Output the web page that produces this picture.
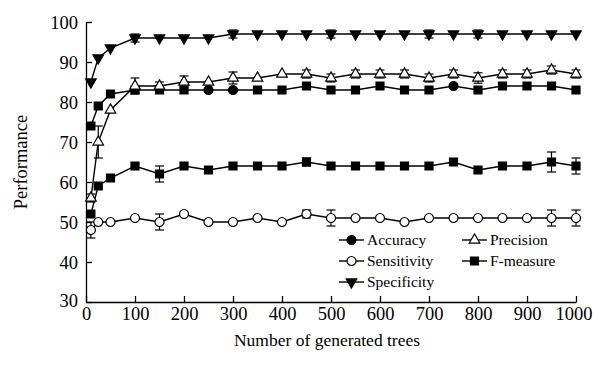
<!DOCTYPE html>
<html>
<head>
<meta charset="utf-8">
<script src="https://cdn.jsdelivr.net/npm/d3@7"></script>
<style>
  body { margin: 0; background: #fff; }
  svg text { font-family: "Liberation Serif", "Times New Roman", serif; fill: #000; }
</style>
</head>
<body>
<svg id="chart" width="593" height="365"></svg>
<script>
const { select, scaleLinear, axisBottom, axisLeft, line, symbol } = d3;

// data
const trees = [10, 25, 50, 100, 150, 200, 250, 300, 350, 400, 450, 500, 550, 600, 650, 700, 750, 800, 850, 900, 950, 1000];

const accuracy    = [74, 79, 82, 83, 83, 83, 83, 83, 83, 83, 84, 83, 83, 84, 83, 83, 84, 83, 84, 84, 84, 83];
const accuracyErr = [0, 0, 0, 0.5, 0, 0, 0, 0, 0, 0, 0, 0, 0, 0, 0, 0, 0, 0, 0, 0, 0, 0];
// the printed figure shows accuracy mostly with square marks, a few circles
const accuracyMark = ['square', 'square', 'square', 'square', 'square', 'square', 'circle', 'circle', 'square', 'square', 'square',
    'square', 'square', 'square', 'square', 'square', 'circle', 'square', 'square', 'square', 'square', 'square'];

const precision    = [56, 70, 78, 84, 84, 85, 85, 86, 86, 87, 87, 86, 87, 87, 87, 86, 87, 86, 87, 87, 88, 87];
const precisionErr = [1, 4, 0, 2, 1, 1.5, 0, 1.5, 0, 0, 1, 1, 1, 1, 1, 1, 1, 1.3, 1, 1, 1, 1];

const sensitivity    = [48, 50, 50, 51, 50, 52, 50, 50, 51, 50, 52, 51, 51, 51, 50, 51, 51, 51, 51, 51, 51, 51];
const sensitivityErr = [2, 0, 0, 0, 2, 0, 0, 0, 0, 0, 1, 2, 0, 0, 0, 0, 0, 0, 0, 0, 2, 2];

const specificity    = [85, 91, 93.5, 96, 96, 96, 96, 97, 97, 97, 97, 97, 97, 97, 97, 97, 97, 97, 97, 97, 97, 97];
const specificityErr = [0, 0, 0, 1, 0, 0, 0, 1, 0, 0, 0, 1, 0, 0, 0, 1, 0, 1, 0, 0, 0, 0];

const fMeasure    = [52, 59, 61, 64, 62, 64, 63, 64, 64, 64, 65, 64, 64, 64, 64, 64, 65, 63, 64, 64, 65, 64];
const fMeasureErr = [0, 0, 0, 0, 2, 0, 0, 0, 0, 0, 1, 0, 0, 0, 0, 0, 0, 0, 0, 0, 2.5, 2];

const xTicks = [0, 100, 200, 300, 400, 500, 600, 700, 800, 900, 1000];
const yTicks = [30, 40, 50, 60, 70, 80, 90, 100];

const series = [
    { name: 'Accuracy',    values: accuracy,    err: accuracyErr,    mark: 'circle',   fill: '#000', marks: accuracyMark },
    { name: 'Sensitivity', values: sensitivity, err: sensitivityErr, mark: 'circle',   fill: '#fff' },
    { name: 'Specificity', values: specificity, err: specificityErr, mark: 'triDown',  fill: '#000' },
    { name: 'Precision',   values: precision,   err: precisionErr,   mark: 'triUp',    fill: '#fff' },
    { name: 'F-measure',   values: fMeasure,    err: fMeasureErr,    mark: 'square',   fill: '#000' }
];

const margin = { top: 22, right: 17, bottom: 63, left: 86 };
const width = 593 - margin.left - margin.right,
      height = 365 - margin.top - margin.bottom;

const svg = select('svg#chart');
const g = svg.append('g')
    .attr('transform', `translate(${margin.left},${margin.top})`);

const x = scaleLinear().domain([0, 1000]).range([0, width]);
const y = scaleLinear().domain([30, 100]).range([height, 0]);

// marker shapes
const symbolFor = (m) => {
    if (m === 'circle') return symbol(d3.symbolCircle, 64)();
    if (m === 'square') return symbol(d3.symbolSquare, 64)();
    return symbol(d3.symbolTriangle, 48)();
};
const drawMark = (sel, m, fill) => sel.append('path')
    .attr('d', symbolFor(m))
    .attr('transform', m === 'triDown' ? 'rotate(180)' : null)
    .attr('fill', fill)
    .attr('stroke', '#000')
    .attr('stroke-width', 1.2);

// axes
const xAxis = g.append('g')
    .attr('transform', `translate(0,${height})`)
    .call(axisBottom(x).tickValues(xTicks).tickFormat(d3.format('d'))
        .tickSizeInner(-6).tickSizeOuter(0).tickPadding(3));
const yAxis = g.append('g')
    .call(axisLeft(y).tickValues(yTicks).tickSizeInner(-6).tickSizeOuter(0).tickPadding(8));

[xAxis, yAxis].forEach(a => {
    a.attr('font-family', '"Liberation Serif", serif').attr('font-size', 18.5);
    a.select('.domain').attr('stroke', '#000').attr('stroke-width', 1.3);
    a.selectAll('.tick line').attr('stroke', '#000').attr('stroke-width', 1.3);
    a.selectAll('.tick text').attr('fill', '#000');
});
xAxis.selectAll('.tick text').attr('dy', '0.8em');
// keep "1000" inside the frame, as in the print
xAxis.selectAll('.tick text').filter(d => d === 1000).attr('dx', '-2.5');
yAxis.selectAll('.tick text').attr('dy', '0.36em');
// the "30" label sits a little lower at the corner
yAxis.selectAll('.tick text').filter(d => d === 30).attr('dy', '0.25em');

// axis titles
svg.append('text')
    .attr('x', margin.left + width / 2 - 4)
    .attr('y', 346)
    .attr('text-anchor', 'middle')
    .style('font-size', '17.5px')
    .text('Number of generated trees');

svg.append('text')
    .attr('transform', `translate(27,${margin.top + height / 2}) rotate(-90)`)
    .attr('text-anchor', 'middle')
    .style('font-size', '18.5px')
    .text('Performance');

// lines, error bars, markers
const lineGen = line()
    .x((d, i) => x(trees[i]))
    .y(d => y(d));

series.forEach(s => {
    g.append('path')
        .datum(s.values)
        .attr('fill', 'none')
        .attr('stroke', '#000')
        .attr('stroke-width', 1.4)
        .attr('d', lineGen);
});

series.forEach(s => {
    const pts = s.values.map((v, i) => ({ t: trees[i], v, e: s.err[i], m: s.marks ? s.marks[i] : s.mark }));
    const eb = g.append('g').selectAll('g')
        .data(pts.filter(p => p.e > 0))
        .join('g')
        .attr('stroke', '#000')
        .attr('stroke-width', 1.2);
    eb.append('line')
        .attr('x1', d => x(d.t)).attr('x2', d => x(d.t))
        .attr('y1', d => y(d.v - d.e)).attr('y2', d => y(d.v + d.e));
    eb.append('line')
        .attr('x1', d => x(d.t) - 4.5).attr('x2', d => x(d.t) + 4.5)
        .attr('y1', d => y(d.v + d.e)).attr('y2', d => y(d.v + d.e));
    eb.append('line')
        .attr('x1', d => x(d.t) - 4.5).attr('x2', d => x(d.t) + 4.5)
        .attr('y1', d => y(d.v - d.e)).attr('y2', d => y(d.v - d.e));

    const mk = g.append('g').selectAll('g')
        .data(pts)
        .join('g')
        .attr('transform', d => `translate(${x(d.t)},${y(d.v)})`);
    mk.each(function(d) { drawMark(select(this), d.m, s.fill); });
});

// legend
const legendCols = [
    { x: 339, names: ['Accuracy', 'Sensitivity', 'Specificity'] },
    { x: 462, names: ['Precision', 'F-measure'] }
];
legendCols.forEach(col => {
    col.names.forEach((name, i) => {
        const s = series.find(d => d.name === name);
        const row = svg.append('g')
            .attr('transform', `translate(${col.x},${240 + i * 21})`);
        row.append('line')
            .attr('x1', 0).attr('x2', 25)
            .attr('stroke', '#000').attr('stroke-width', 1.4);
        drawMark(row.append('g').attr('transform', 'translate(12.5,0)'), s.mark, s.fill);
        row.append('text')
            .attr('x', 28)
            .attr('dy', '0.35em')
            .style('font-size', '15.5px')
            .text(name);
    });
});
</script>
</body>
</html>
